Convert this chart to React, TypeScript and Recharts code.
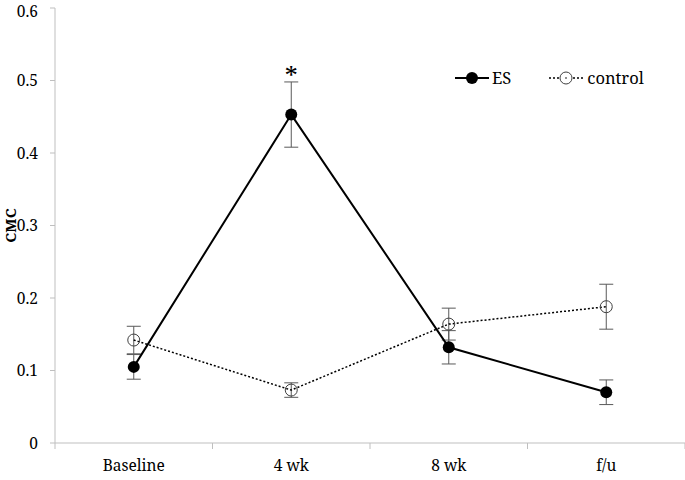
import { ErrorBar, LabelList, Line, LineChart, XAxis, YAxis, Label } from 'recharts'

const times = ['Baseline', '4 wk', '8 wk', 'f/u']
const esMean = [0.105, 0.453, 0.132, 0.07]
const esErr = [0.017, 0.045, 0.023, 0.017]
const ctrlMean = [0.142, 0.073, 0.164, 0.188]
const ctrlErr = [0.019, 0.01, 0.022, 0.031]
const sigMarks = ['', '*', '', '']
const yTicks = [0, 0.1, 0.2, 0.3, 0.4, 0.5, 0.6]

const data = times.map((t, i) => ({
  time: t,
  es: esMean[i],
  esErr: esErr[i],
  ctrl: ctrlMean[i],
  ctrlErr: ctrlErr[i],
  sig: sigMarks[i]
}))

const font = '"Noto Serif", serif'
const fs = 15.5
const axisGray = '#bfbfbf'

function BandTick(props: any) {
  const { x, y, payload, index } = props
  const off = payload.offset || 0
  const axisY = y - 17
  return (
    <g>
      <line x1={x - off} x2={x - off} y1={axisY} y2={axisY + 6} stroke={axisGray} />
      {index === times.length - 1 && (
        <line x1={x + off} x2={x + off} y1={axisY} y2={axisY + 6} stroke={axisGray} />
      )}
      <text x={x} y={y} dy="0.71em" textAnchor="middle" style={{ fontFamily: font, fontSize: fs }} fill="#000">
        {payload.value}
      </text>
    </g>
  )
}

function OpenDot(props: any) {
  const { cx, cy } = props
  if (cx == null || cy == null) return null
  return <circle cx={cx} cy={cy} r={6} fill="none" stroke="#404040" strokeWidth={1} />
}

function LegendBox() {
  return (
    <div style={{ position: 'absolute', left: 455, top: 66, display: 'flex', alignItems: 'center', fontFamily: font, fontSize: fs + 1, color: '#000' }}>
      <svg width={34} height={14}>
        <line x1={0} x2={34} y1={7} y2={7} stroke="#000" strokeWidth={2} />
        <circle cx={17} cy={7} r={6} fill="#000" />
      </svg>
      <span style={{ marginLeft: 3, marginRight: 38 }}>ES</span>
      <svg width={34} height={14}>
        <line x1={0} x2={34} y1={7} y2={7} stroke="#000" strokeWidth={1.5} strokeDasharray="2 2" />
        <circle cx={17} cy={7} r={6} fill="#fff" stroke="#404040" />
        <circle cx={17} cy={7} r={0.8} fill="#000" />
      </svg>
      <span style={{ marginLeft: 4 }}>control</span>
    </div>
  )
}

export default function App() {
  return (
    <div style={{ position: 'absolute', left: 0, top: 0, width: 685, height: 480, background: '#fff' }}>
      <LineChart width={685} height={480} data={data} margin={{ top: 8, right: 0, left: 0, bottom: 0 }}>
        <XAxis
          dataKey="time"
          scale="band"
          height={37}
          axisLine={{ stroke: axisGray }}
          tickLine={false}
          tickSize={6}
          tickMargin={11}
          tick={<BandTick />}
          interval={0}
        />
        <YAxis
          width={55}
          domain={[0, 0.6]}
          ticks={yTicks}
          axisLine={{ stroke: axisGray }}
          tickLine={{ stroke: axisGray }}
          tickSize={5}
          tickMargin={12}
          tick={{ style: { fontFamily: font, fontSize: fs }, fill: '#000' }}
        >
          <Label
            content={(p: any) => {
              const vb = p.viewBox
              const cx = vb.x + 10
              const cy = vb.y + vb.height / 2
              return (
                <text x={cx} y={cy} transform={`rotate(-90, ${cx}, ${cy})`} textAnchor="middle" dominantBaseline="central" style={{ fontFamily: font, fontSize: 15, fontWeight: 'bold' }}>
                  CMC
                </text>
              )
            }}
          />
        </YAxis>
        <Line
          dataKey="ctrl"
          stroke="#000"
          strokeWidth={1.5}
          strokeDasharray="2 2"
          dot={<OpenDot />}
          activeDot={false}
          isAnimationActive={false}
        >
          <ErrorBar dataKey="ctrlErr" direction="y" width={7} stroke="#595959" strokeWidth={1} />
        </Line>
        <Line
          dataKey="es"
          stroke="#000"
          strokeWidth={2}
          dot={{ r: 6, fill: '#000', stroke: '#000', strokeWidth: 0 }}
          activeDot={false}
          isAnimationActive={false}
        >
          <ErrorBar dataKey="esErr" direction="y" width={7} stroke="#595959" strokeWidth={1} />
          <LabelList dataKey="sig" position="top" offset={30} style={{ fontFamily: font, fontSize: 26 }} fill="#000" />
        </Line>
      </LineChart>
      <LegendBox />
    </div>
  )
}
